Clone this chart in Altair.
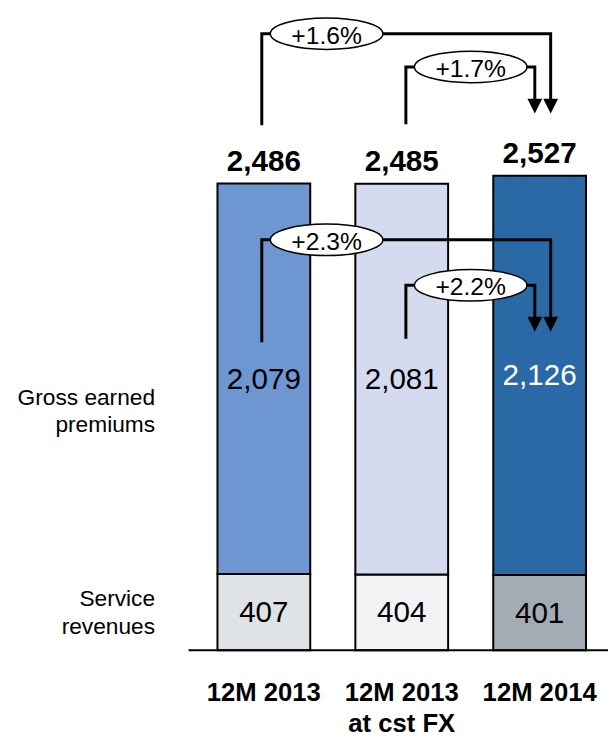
import altair as alt
import pandas as pd

# ---------------- data ----------------
categories = ["12M 2013", "12M 2013\nat cst FX", "12M 2014"]
gross_earned_premiums = [2079, 2081, 2126]
service_revenues = [407, 404, 401]

growth_labels = ["+1.6%", "+1.7%", "+2.3%", "+2.2%"]
growth_from = [0, 1, 0, 1]            # category index where bracket starts
growth_to = [2, 2, 2, 2]              # category index where arrow lands
growth_level = [3284, 3107, 2186, 1944]   # height of horizontal bracket line
growth_start = [2796, 2802, 1641, 1659]   # bottom of rising stem
growth_tip = [2859, 2859, 1697, 1697]     # arrow tip height

row_labels = ["Gross earned\npremiums", "Service\nrevenues"]

# ---------------- layout / style ----------------
W, H = 425, 646
PAD = {"left": 183, "top": 0, "right": 0, "bottom": 87}
X_DOMAIN = [-0.51, 2.46]
Y_DOMAIN = [0, 3395]
FONT = "Liberation Sans"

gep_colors = ["#6e96d0", "#d4dbee", "#2a68a6"]
svc_colors = ["#dfe3e6", "#f2f3f5", "#a3acb4"]

# ---------------- tables ----------------
bars = []
for i in range(len(categories)):
    s, g = service_revenues[i], gross_earned_premiums[i]
    bars.append({"idx": i, "seg": f"svc{i}", "y0": 0, "y1": s})
    bars.append({"idx": i, "seg": f"gep{i}", "y0": s, "y1": s + g})
bars_df = pd.DataFrame(bars)

lab_df = pd.DataFrame({
    "idx": list(range(len(categories))),
    "cat": categories,
    "total": [g + s for g, s in zip(gross_earned_premiums, service_revenues)],
    "gep": gross_earned_premiums,
    "svc": service_revenues,
    "gep_mid": [s + g / 2 for g, s in zip(gross_earned_premiums, service_revenues)],
    "svc_mid": [s / 2 for s in service_revenues],
})
lab_df["total_txt"] = lab_df["total"].map(lambda v: f"{v:,}")
lab_df["gep_txt"] = lab_df["gep"].map(lambda v: f"{v:,}")
lab_df["svc_txt"] = lab_df["svc"].map(lambda v: f"{v:,}")

px_per_unit = H / (Y_DOMAIN[1] - Y_DOMAIN[0])
line_pts, heads, ovals = [], [], []
for b in range(len(growth_labels)):
    outer = (growth_to[b] - growth_from[b]) > 1
    x0 = growth_from[b] + (-0.015 if outer else 0.03)
    x1 = growth_to[b] + (0.08 if outer else -0.035)
    end = growth_tip[b] + 8 / px_per_unit
    pts = [(x0, growth_start[b]), (x0, growth_level[b]), (x1, growth_level[b]), (x1, end)]
    for k, (x, y) in enumerate(pts):
        line_pts.append({"b": b, "k": k, "x": x, "y": y})
    heads.append({"x": x1, "y": growth_tip[b]})
    ovals.append({"x": x0 + 0.47, "y": growth_level[b], "txt": growth_labels[b]})
line_df = pd.DataFrame(line_pts)
head_df = pd.DataFrame(heads)
oval_df = pd.DataFrame(ovals)

xs = alt.Scale(domain=X_DOMAIN, nice=False, zero=False)
ys = alt.Scale(domain=Y_DOMAIN, nice=False, zero=False)

# ---------------- marks ----------------
bar_layer = alt.Chart(bars_df).mark_bar(size=94, stroke="black", strokeWidth=2).encode(
    x=alt.X("idx:Q", scale=xs, axis=None),
    y=alt.Y("y0:Q", scale=ys, axis=None),
    y2="y1:Q",
    color=alt.Color("seg:N", legend=None, scale=alt.Scale(
        domain=[f"gep{i}" for i in range(3)] + [f"svc{i}" for i in range(3)],
        range=gep_colors + svc_colors)),
)

base_line = alt.Chart(pd.DataFrame({"y": [0]})).mark_rule(color="black", strokeWidth=2).encode(
    y=alt.Y("y:Q", scale=ys, axis=None), x=alt.value(0), x2=alt.value(W))

total_text = alt.Chart(lab_df).mark_text(
    font=FONT, fontSize=30, fontWeight="bold", baseline="alphabetic", dy=-13, color="black"
).encode(x=alt.X("idx:Q", scale=xs, axis=None), y=alt.Y("total:Q", scale=ys, axis=None), text="total_txt:N")

gep_text = alt.Chart(lab_df).mark_text(font=FONT, fontSize=30, baseline="middle", dy=1).encode(
    x=alt.X("idx:Q", scale=xs, axis=None), y=alt.Y("gep_mid:Q", scale=ys, axis=None), text="gep_txt:N",
    color=alt.condition(alt.datum.idx == 2, alt.value("white"), alt.value("black")))

svc_text = alt.Chart(lab_df).mark_text(font=FONT, fontSize=30, baseline="middle", dy=1, color="black").encode(
    x=alt.X("idx:Q", scale=xs, axis=None), y=alt.Y("svc_mid:Q", scale=ys, axis=None), text="svc_txt:N")

cat_text = alt.Chart(lab_df).mark_text(
    font=FONT, fontSize=26, fontWeight="bold", baseline="alphabetic", lineBreak="\n", lineHeight=32,
    color="black"
).encode(x=alt.X("idx:Q", scale=xs, axis=None), y=alt.value(697), text="cat:N")

row_df = pd.DataFrame({"txt": row_labels, "ypix": [397, 601]})
row_text = alt.Chart(row_df).mark_text(
    font=FONT, fontSize=23, align="right", baseline="alphabetic", lineBreak="\n", lineHeight=28,
    color="black"
).encode(x=alt.value(-34), y=alt.Y("ypix:Q", scale=None), text="txt:N")

bracket_lines = alt.Chart(line_df).mark_line(color="black", strokeWidth=3, strokeJoin="miter").encode(
    x=alt.X("x:Q", scale=xs, axis=None), y=alt.Y("y:Q", scale=ys, axis=None),
    detail="b:N", order="k:Q")

arrow_heads = alt.Chart(head_df).mark_point(
    shape="M-1,-2L1,-2L0,0Z", size=225, filled=True, color="black", opacity=1, strokeWidth=0
).encode(x=alt.X("x:Q", scale=xs, axis=None), y=alt.Y("y:Q", scale=ys, axis=None))

ellipse_path = ("M-1,0C-1,-0.1546,-0.5523,-0.28,0,-0.28C0.5523,-0.28,1,-0.1546,1,0"
                "C1,0.1546,0.5523,0.28,0,0.28C-0.5523,0.28,-1,0.1546,-1,0Z")
oval_marks = alt.Chart(oval_df).mark_point(
    shape=ellipse_path, size=114 * 114, filled=True, fill="white", stroke="black",
    strokeWidth=1.5, opacity=1, fillOpacity=1, strokeOpacity=1
).encode(x=alt.X("x:Q", scale=xs, axis=None), y=alt.Y("y:Q", scale=ys, axis=None))

oval_text = alt.Chart(oval_df).mark_text(font=FONT, fontSize=25, baseline="middle", dy=2, color="black").encode(
    x=alt.X("x:Q", scale=xs, axis=None), y=alt.Y("y:Q", scale=ys, axis=None), text="txt:N")

chart = alt.layer(
    bar_layer, base_line, total_text, gep_text, svc_text, cat_text, row_text,
    bracket_lines, arrow_heads, oval_marks, oval_text
).properties(
    width=W, height=H, autosize=alt.AutoSizeParams(type="none"), padding=PAD
).configure_view(stroke=None).configure_text(font=FONT)

chart.save("out.html", embed_options={"renderer": "svg", "actions": False})
